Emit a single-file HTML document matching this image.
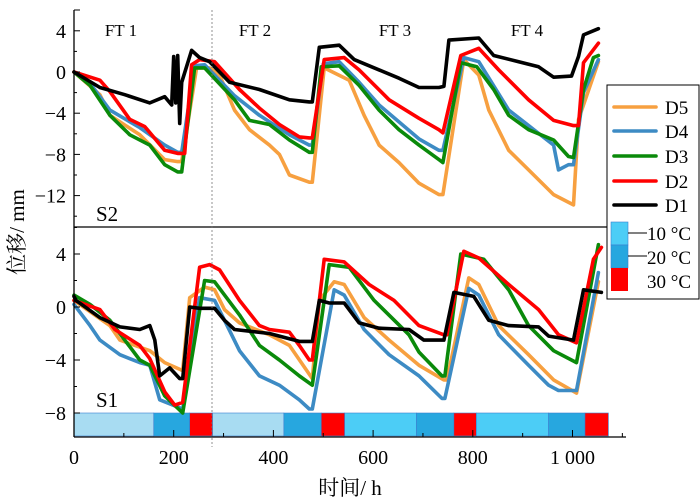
<!DOCTYPE html>
<html><head><meta charset="utf-8"><style>
html,body{margin:0;padding:0;background:#fff}
svg{display:block;font-family:"Liberation Serif","Noto Serif CJK SC",serif}
</style></head><body>
<svg id="chart" width="700" height="500" viewBox="0 0 700 500">
<g id="bars"></g>
<g id="series"></g>
<g id="axes"></g>
</svg>
<script>
// ---------- data ----------
const seriesNames = ["D5","D4","D3","D2","D1"];
const seriesColors = ["#f7a040","#3d8bc4","#0a8a0a","#ff0000","#000000"];
// S2 (top panel)
const s2D1t = [0,52,102,152,182,196,200,204,208,212,216,236,252,272,312,372,432,472,478,492,532,562,612,652,692,732,742,752,812,842,892,932,962,998,1012,1022,1052];
const s2D1v = [0,-1.5,-2.2,-3,-2.4,-3.2,1.5,-3,1.6,-5,-1,2.1,1.4,1.0,-1,-1.7,-2.7,-2.9,-2.9,2.4,2.6,1.2,0.2,-0.6,-1.5,-1.5,-1.4,3.1,3.3,1.6,1.0,0.5,-0.5,-0.4,1.5,3.6,4.2];
const s2D2t = [0,52,72,112,142,182,208,222,236,252,282,332,372,412,452,472,478,502,542,572,632,692,732,740,776,812,852,912,962,1002,1012,1022,1052];
const s2D2v = [0,-0.8,-1.9,-4.6,-5.3,-7.6,-7.9,-7.9,0.7,1.2,1.0,-1.7,-3.5,-5.1,-6.3,-6.4,-6.4,1.2,1.4,0.2,-2.7,-4.5,-5.6,-5.9,1.6,2.3,0.2,-2.7,-4.7,-5.2,-5.2,0.9,2.8];
const s2D3t = [0,32,72,112,152,182,208,216,242,262,322,352,392,432,472,478,496,532,572,612,652,692,732,740,776,808,842,872,912,962,992,1002,1022,1042,1052];
const s2D3v = [0,-1.3,-4.2,-6.1,-7.1,-9.0,-9.7,-9.7,0.4,0.4,-2.7,-4.7,-5.1,-6.6,-7.8,-7.8,0.5,0.6,-1.3,-3.7,-5.6,-7.1,-8.5,-8.8,0.9,0.5,-1.7,-4.2,-5.6,-6.6,-8.2,-8.3,-1.7,1.4,1.6];
const s2D4t = [0,32,72,132,182,208,216,242,262,322,372,432,472,478,500,532,572,612,692,732,740,782,812,872,912,962,972,992,1002,1022,1052];
const s2D4v = [0,-1.1,-3.7,-5.4,-7.1,-7.8,-7.8,0.6,0.7,-2.3,-4.2,-6.1,-7.1,-7.1,0.8,1.0,-1.0,-3.2,-6.5,-7.6,-7.6,1.4,1.0,-3.7,-5.2,-7.1,-9.5,-9.0,-9.0,-2.0,1.2];
const s2D5t = [0,52,72,132,182,208,216,246,272,292,322,352,392,412,432,472,478,502,552,582,612,652,692,732,740,782,812,832,872,912,962,1002,1012,1052];
const s2D5v = [0,-2.2,-4.2,-6.1,-8.5,-8.7,-8.7,0.4,0.4,-0.3,-3.7,-5.6,-7.1,-8.0,-10.0,-10.7,-10.7,0.4,-0.8,-4.2,-7.1,-8.8,-10.8,-11.9,-11.9,1.2,-0.3,-3.7,-7.6,-9.5,-11.9,-12.9,-4.6,1.0];
// S1 (bottom panel)
const s1D1t = [0,4,52,92,132,152,162,172,192,212,218,232,252,282,302,322,392,452,478,492,512,542,572,612,672,702,742,762,802,832,872,932,952,1002,1022,1058];
const s1D1v = [0.8,0.5,-0.8,-1.5,-1.7,-1.4,-2.5,-5.2,-4.6,-5.4,-5.4,0,-0.1,-0.1,-1,-1.7,-2,-2.6,-2.6,0.5,0.3,0.3,-1.2,-1.6,-1.7,-2.5,-2.5,1.1,0.8,-1,-1.4,-1.5,-2.2,-2.5,1.3,1.1];
const s1D2t = [0,52,82,132,152,182,202,218,252,272,292,332,372,392,432,452,472,478,502,542,592,642,692,742,748,782,812,872,932,972,1008,1042,1058];
const s1D2v = [0.5,-0.2,-1.7,-2.9,-3.9,-6.4,-7.4,-7.2,3.0,3.2,2.8,0.5,-1.4,-1.7,-1.9,-2.9,-4.0,-4.0,3.6,3.4,1.7,0.5,-1.4,-2.1,-2.1,4.2,3.7,1.7,-0.2,-2.1,-2.7,3.6,4.5];
const s1D3t = [0,32,72,132,152,182,218,262,282,332,372,412,452,478,512,552,602,672,692,738,744,776,822,872,912,962,1008,1052];
const s1D3v = [0.9,0.2,-1,-4,-4.4,-6.7,-8,2.0,1.9,-0.6,-2.9,-4,-5.2,-5.9,3.2,3.0,0.5,-2.1,-3.4,-5.2,-5.2,4.0,3.6,1.3,-1.4,-3.3,-4.2,4.7];
const s1D4t = [0,32,52,92,132,152,172,218,252,282,302,332,372,412,452,472,478,522,542,582,632,692,738,744,792,812,852,912,952,972,1008,1052];
const s1D4v = [0.2,-1.4,-2.5,-3.6,-4.2,-4.4,-7.0,-7.7,0.7,0.5,-1,-3.3,-5.2,-5.9,-7,-7.7,-7.7,1.3,0.9,-1.7,-3.6,-5.2,-6.9,-6.9,1.4,0.9,-2.1,-4.4,-5.9,-6.3,-6.3,2.6];
const s1D5t = [0,72,92,152,182,218,232,262,282,302,332,392,432,478,492,522,542,582,632,692,742,748,792,812,852,912,962,1008,1052];
const s1D5v = [0.5,-1.4,-2.5,-3.3,-4.2,-4.8,0.7,1.5,1.3,-0.2,-1.2,-2.1,-2.9,-5.4,0.5,1.9,1.7,-0.8,-2.5,-4.4,-5.5,-5.5,2.2,1.7,-1.4,-3.6,-5.5,-6.5,1.9];
// temperature segments
const segStart = [0,160,232,278,421,496,543,687,762,807,952,1025];
const segEnd   = [160,232,278,421,496,543,687,762,807,952,1025,1072];
const segTemp  = ["L","M","H","L","M","H","C","M","H","C","M","H"];
const xTicks = [0,200,400,600,800,1000];
const xTickLabels = ["0","200","400","600","800","1 000"];
const s2Ticks = [4,0,-4,-8,-12];
const s2TickLabels = ["4","0","\u22124","\u22128","\u221212"];
const s1Ticks = [4,0,-4,-8];
const s1TickLabels = ["4","0","\u22124","\u22128"];

// ---------- scales ----------
const X = t => 74 + t * 0.4985;
const Y2 = v => 72 - v * 10.3;
const Y1 = v => 307 - v * 13.25;
const NS = "http://www.w3.org/2000/svg";
function mk(tag, attrs, parent, text){
  const e = document.createElementNS(NS, tag);
  for (const k in attrs) e.setAttribute(k, attrs[k]);
  if (text !== undefined) e.textContent = text;
  parent.appendChild(e); return e;
}
const gBars = document.getElementById('bars');
const gS = document.getElementById('series');
const gA = document.getElementById('axes');

const tempColor = {L:"#a8dcf2", M:"#27a7df", C:"#4ccdf6", H:"#ff0000"};
segStart.forEach((s,i)=>{
  const r = mk('rect',{x:X(s),y:413,width:X(segEnd[i])-X(s),height:23,fill:tempColor[segTemp[i]],stroke:"#3a7fd0","stroke-width":0.6}, gBars);
  
  
});

const s2T=[s2D5t,s2D4t,s2D3t,s2D2t,s2D1t], s2V=[s2D5v,s2D4v,s2D3v,s2D2v,s2D1v];
const s1T=[s1D5t,s1D4t,s1D3t,s1D2t,s1D1t], s1V=[s1D5v,s1D4v,s1D3v,s1D2v,s1D1v];
function drawLine(ts, vs, Y, color, name){
  const d = ts.map((t,i)=>(i?'L':'M')+X(t).toFixed(1)+','+Y(vs[i]).toFixed(1)).join(' ');
  const p = mk('path',{d:d,fill:'none',stroke:color,'stroke-width':3.6,'stroke-linejoin':'round','stroke-linecap':'round'}, gS);
  
  
}
for (let i=0;i<5;i++){
  drawLine(s2T[i], s2V[i], Y2, seriesColors[i], 's2-line-' + seriesNames[i].toLowerCase());
  drawLine(s1T[i], s1V[i], Y1, seriesColors[i], 's1-line-' + seriesNames[i].toLowerCase());
}

mk('line',{x1:74,y1:10,x2:74,y2:437,stroke:'#000','stroke-width':1.3}, gA);
mk('line',{x1:74,y1:437,x2:626,y2:437,stroke:'#000','stroke-width':1.3}, gA);
mk('line',{x1:74,y1:227,x2:607,y2:227,stroke:'#000','stroke-width':1.3}, gA);
mk('line',{x1:212,y1:10,x2:212,y2:447,stroke:'#777','stroke-width':0.8,'stroke-dasharray':'2,2'}, gA);
mk('line',{x1:74,y1:10,x2:80,y2:10,stroke:'#000','stroke-width':1}, gA);
for (let v=4; v>=-14; v-=2){
  const major = v%4===0;
  mk('line',{x1:74,y1:Y2(v),x2:74+(major?6:3),y2:Y2(v),stroke:'#000','stroke-width':1}, gA);
}
for (let v=6; v>=-8; v-=2){
  const major = v%4===0;
  mk('line',{x1:74,y1:Y1(v),x2:74+(major?6:3),y2:Y1(v),stroke:'#000','stroke-width':1}, gA);
}
s2Ticks.forEach((v,i)=>{
  const t = mk('text',{x:66,y:Y2(v)+7,'text-anchor':'end','font-size':20}, gA, s2TickLabels[i]);
  
  
});
s1Ticks.forEach((v,i)=>{
  const t = mk('text',{x:66,y:Y1(v)+7,'text-anchor':'end','font-size':20}, gA, s1TickLabels[i]);
  
  
});
for (let t=0;t<=1100;t+=100){
  mk('line',{x1:X(t),y1:437,x2:X(t),y2:437-(t%200===0?7:4),stroke:'#000','stroke-width':1}, gA);
}
xTicks.forEach((t,i)=>{
  const e = mk('text',{x:X(t),y:464,'text-anchor':'middle','font-size':20}, gA, xTickLabels[i]);
  
  
});
</script>
<script>
(function(){
  const svg = document.getElementById('chart');
  const add = (html)=>{ svg.insertAdjacentHTML('beforeend', html); };
  add('<text x="350" y="495" text-anchor="middle" font-size="21">时间/ h</text>');
  add('<text transform="translate(24,232) rotate(-90)" text-anchor="middle" font-size="21">位移/ mm</text>');
  add('<text x="121" y="36" text-anchor="middle" font-size="17">FT 1</text>');
  add('<text x="255" y="36" text-anchor="middle" font-size="17">FT 2</text>');
  add('<text x="395" y="36" text-anchor="middle" font-size="17">FT 3</text>');
  add('<text x="527" y="36" text-anchor="middle" font-size="17">FT 4</text>');
  add('<text x="96" y="221" font-size="21">S2</text>');
  add('<text x="96" y="407" font-size="21">S1</text>');
  let lg = '<g><rect x="607" y="85" width="92" height="214" fill="#fff" stroke="#000" stroke-width="1"/>';
  const names=["D5","D4","D3","D2","D1"], cols=["#f7a040","#3d8bc4","#0a8a0a","#ff0000","#000000"], ys=[107,131,156,181,205];
  for(let i=0;i<5;i++){
    lg += '<g><line x1="614" y1="'+ys[i]+'" x2="656" y2="'+ys[i]+'" stroke="'+cols[i]+'" stroke-width="3.6" stroke-linecap="round"/><text x="665" y="'+(ys[i]+7)+'" font-size="19">'+names[i]+'</text></g>';
  }
  lg += '<rect x="611" y="222" width="17" height="23" fill="#4ccdf6" stroke="#3a7fd0" stroke-width="0.6"/>';
  lg += '<rect x="611" y="245" width="17" height="23" fill="#27a7df" stroke="#3a7fd0" stroke-width="0.6"/>';
  lg += '<rect x="611" y="268" width="17" height="23" fill="#ff0000"/>';
  lg += '<line x1="628" y1="233" x2="647" y2="233" stroke="#000" stroke-width="1"/><line x1="628" y1="256" x2="647" y2="256" stroke="#000" stroke-width="1"/>';
  lg += '<text x="647" y="240" font-size="19">10 °C</text>';
  lg += '<text x="647" y="264" font-size="19">20 °C</text>';
  lg += '<text x="647" y="288" font-size="19">30 °C</text></g>';
  add(lg);
})();
</script>
</body></html>
